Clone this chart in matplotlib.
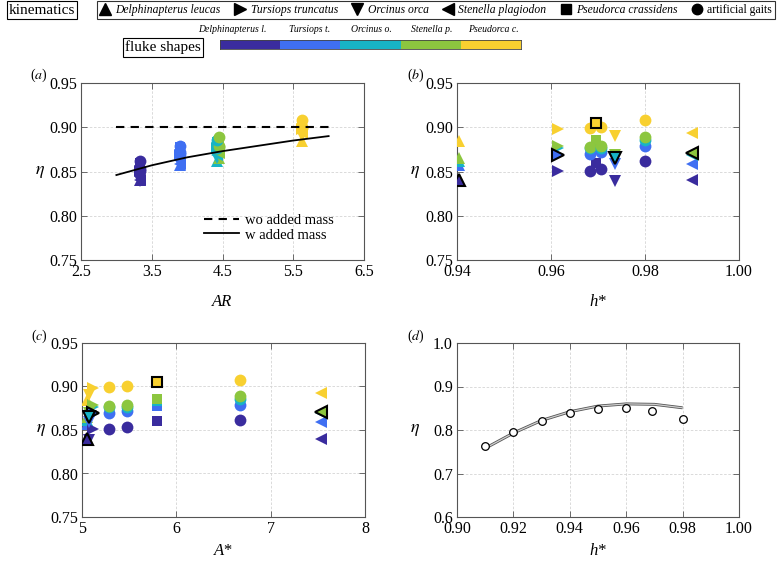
import matplotlib
matplotlib.use("Agg")
import matplotlib.pyplot as plt
from matplotlib.lines import Line2D
from matplotlib.colors import ListedColormap
import numpy as np

plt.rcParams['font.family'] = ['Liberation Serif', 'DejaVu Serif']
plt.rcParams['mathtext.fontset'] = 'stix'

# ---------------- data ----------------
fluke_names = ['Delphinapterus l.', 'Tursiops t.', 'Orcinus o.', 'Stenella p.', 'Pseudorca c.']
fluke_colors = ['#3a2c9e', '#3f6ff2', '#17b4c6', '#8cc63f', '#f8d030']
fluke_AR = [3.33, 3.90, 4.42, 4.45, 5.63]

kin_names = ['Delphinapterus leucas', 'Tursiops truncatus', 'Orcinus orca',
             'Stenella plagiodon', 'Pseudorca crassidens', 'artificial gaits']
kin_markers = ['^', '>', 'v', '<', 's', 'o']

# efficiency for each kinematics, one value per fluke shape (Dl, Tt, Oo, Sp, Pc)
eta_Dl_kin = [0.840, 0.857, 0.862, 0.865, 0.884]
eta_Tt_kin = [0.851, 0.869, 0.876, 0.879, 0.898]
eta_Oo_kin = [0.839, 0.859, 0.865, 0.869, 0.890]
eta_Sp_kin = [0.840, 0.859, 0.869, 0.871, 0.893]
eta_Pc_kin = [0.860, 0.878, 0.883, 0.886, 0.905]
eta_gait1 = [0.851, 0.870, 0.876, 0.878, 0.899]
eta_gait2 = [0.853, 0.872, 0.877, 0.879, 0.900]
eta_gait3 = [0.862, 0.879, 0.886, 0.889, 0.908]

# kinematic parameters
hstar_kin = [0.9405, 0.9615, 0.9737, 0.990, 0.9695, 0.9683, 0.9706, 0.980]
Astar_kin = [5.05, 5.12, 5.07, 7.53, 5.79, 5.29, 5.48, 6.67]
marker_idx = [0, 1, 2, 3, 4, 5, 5, 5]
native_fluke = [0, 1, 2, 3, 4, None, None, None]
eta_all = [eta_Dl_kin, eta_Tt_kin, eta_Oo_kin, eta_Sp_kin, eta_Pc_kin,
           eta_gait1, eta_gait2, eta_gait3]

# panel (a) model lines
AR_fit = [3.0, 3.5, 4.0, 4.5, 5.0, 5.5, 6.0]
eta_fit_wo = [0.900, 0.900, 0.900, 0.900, 0.900, 0.900, 0.900]
eta_fit_w = [0.846, 0.857, 0.866, 0.873, 0.879, 0.885, 0.890]

# panel (d)
hstar_d = [0.91, 0.92, 0.93, 0.94, 0.95, 0.96, 0.969, 0.98]
eta_d = [0.763, 0.795, 0.821, 0.839, 0.849, 0.851, 0.844, 0.825]
hstar_d_fit = [0.91, 0.92, 0.93, 0.94, 0.95, 0.96, 0.97, 0.98]
eta_d_fit = [0.758, 0.793, 0.822, 0.842, 0.855, 0.860, 0.859, 0.851]

# ---------------- figure ----------------
W, H = 779, 561
fig = plt.figure(figsize=(W / 100, H / 100), dpi=100)

def ax_at(x0, y0, x1, y1):
    return fig.add_axes([x0 / W, 1 - y1 / H, (x1 - x0) / W, (y1 - y0) / H])

axA = ax_at(81, 83, 364, 260)
axB = ax_at(457, 83, 739, 260)
axC = ax_at(82, 343, 365, 517)
axD = ax_at(457, 343, 739, 517)

TICK_FS = 11.5
for ax in (axA, axB, axC, axD):
    ax.grid(True, color='#d4d4d4', linestyle=(0, (3, 2)), linewidth=0.6)
    ax.set_axisbelow(True)
    for s in ax.spines.values():
        s.set_color('#555555')
        s.set_linewidth(0.8)
    ax.tick_params(direction='in', top=True, right=True, length=4, width=0.6,
                   color='#555555', labelsize=TICK_FS, pad=3)
    ax.set_ylabel(r'$\eta$', rotation=0, fontsize=13, va='center', ha='center')

MS = {'^': 9, '>': 9, 'v': 9, '<': 9, 's': 6.5, 'o': 8.5}

def scatter_panel(ax, xvals_kin, use_AR=False, edges=True):
    # non-native first, native (edged) last
    for k in range(8):
        m = kin_markers[marker_idx[k]]
        for f in range(5):
            if edges and native_fluke[k] == f:
                continue
            x = fluke_AR[f] if use_AR else xvals_kin[k]
            ax.plot(x, eta_all[k][f], m, ms=MS[m], color=fluke_colors[f],
                    mec=fluke_colors[f], mew=0, zorder=3)
    if edges:
        for k in range(8):
            f = native_fluke[k]
            if f is None:
                continue
            m = kin_markers[marker_idx[k]]
            x = xvals_kin[k]
            ax.plot(x, eta_all[k][f], m, ms=MS[m], color=fluke_colors[f],
                    mec='black', mew=1.5, zorder=4)

# (a)
scatter_panel(axA, None, use_AR=True, edges=False)
axA.plot(AR_fit, eta_fit_wo, '--', color='black', lw=1.5, dashes=(4, 3), label='wo added mass', zorder=5)
axA.plot(AR_fit, eta_fit_w, '-', color='black', lw=1.3, label='w added mass', zorder=5)
axA.set_xlim(2.5, 6.5)
axA.set_ylim(0.75, 0.95)
axA.set_xticks([2.5, 3.5, 4.5, 5.5, 6.5])
axA.set_xticklabels(['2.5', '3.5', '4.5', '5.5', '6.5'])
axA.set_yticks([0.75, 0.80, 0.85, 0.90, 0.95])
axA.set_yticklabels(['0.75', '0.80', '0.85', '0.90', '0.95'])
axA.set_xlabel('AR', fontstyle='italic', fontsize=12)
axA.legend(loc='lower right', bbox_to_anchor=(0.94, 0.03), frameon=False,
           fontsize=10.5, handlelength=2.4, handletextpad=0.4, labelspacing=0.1)

# (b)
scatter_panel(axB, hstar_kin)
axB.set_xlim(0.94, 1.00)
axB.set_ylim(0.75, 0.95)
axB.set_xticks([0.94, 0.96, 0.98, 1.00])
axB.set_xticklabels(['0.94', '0.96', '0.98', '1.00'])
axB.set_yticks([0.75, 0.80, 0.85, 0.90, 0.95])
axB.set_yticklabels(['0.75', '0.80', '0.85', '0.90', '0.95'])
axB.set_xlabel('h*', fontstyle='italic', fontsize=12)

# (c)
scatter_panel(axC, Astar_kin)
axC.set_xlim(5, 8)
axC.set_ylim(0.75, 0.95)
axC.set_xticks([5, 6, 7, 8])
axC.set_yticks([0.75, 0.80, 0.85, 0.90, 0.95])
axC.set_yticklabels(['0.75', '0.80', '0.85', '0.90', '0.95'])
axC.set_xlabel('A*', fontstyle='italic', fontsize=12)

# (d)
axD.plot(hstar_d_fit, eta_d_fit, '-', color='#555555', lw=2.1, zorder=3,
         solid_capstyle='butt')
axD.plot(hstar_d_fit, eta_d_fit, '-', color='#d0d0d0', lw=0.9, zorder=3,
         solid_capstyle='butt')
axD.plot(hstar_d, eta_d, 'o', ms=5.5, mfc='white', mec='black', mew=0.9, zorder=4)
axD.set_xlim(0.90, 1.00)
axD.set_ylim(0.6, 1.0)
axD.set_xticks([0.90, 0.92, 0.94, 0.96, 0.98, 1.00])
axD.set_xticklabels(['0.90', '0.92', '0.94', '0.96', '0.98', '1.00'])
axD.set_yticks([0.6, 0.7, 0.8, 0.9, 1.0])
axD.set_yticklabels(['0.6', '0.7', '0.8', '0.9', '1.0'])
axD.set_xlabel('h*', fontstyle='italic', fontsize=12)

axA.yaxis.set_label_coords(-0.145, 0.5)
axC.yaxis.set_label_coords(-0.145, 0.5)
axB.yaxis.set_label_coords(-0.149, 0.5)
axD.yaxis.set_label_coords(-0.149, 0.5)
axA.xaxis.set_label_coords(0.5, -0.19)
axB.xaxis.set_label_coords(0.5, -0.19)
axC.xaxis.set_label_coords(0.5, -0.15)
axD.xaxis.set_label_coords(0.5, -0.15)

# panel letters
for lbl, (px, py) in zip(['(a)', '(b)', '(c)', '(d)'],
                         [(39, 75), (416, 75), (39, 336), (416, 336)]):
    fig.text(px / W, 1 - py / H, lbl[0] + '$' + lbl[1] + '$' + lbl[2],
             fontsize=10, ha='center', va='center')

# ---------------- top legends ----------------
fig.text(42 / W, 1 - 10 / H, 'kinematics', fontsize=11, ha='center', va='center',
         bbox=dict(boxstyle='square,pad=0.15', fc='white', ec='black', lw=0.8))

handles = [Line2D([], [], marker=m, ls='none', color='black', ms=9 if m not in 'so' else 7.5)
           for m in kin_markers]
leg = fig.legend(handles, kin_names, loc='center', bbox_to_anchor=(436 / W, 1 - 10 / H),
                 ncol=6, frameon=True, fancybox=False, edgecolor='black', fontsize=8.4,
                 handlelength=0.9, handletextpad=0.45, columnspacing=1.2,
                 borderpad=0.25, borderaxespad=0)
leg.get_frame().set_linewidth(0.8)
for i, t in enumerate(leg.get_texts()):
    t.set_fontstyle('italic' if i < 5 else 'normal')

fig.text(163 / W, 1 - 47.5 / H, 'fluke shapes', fontsize=11, ha='center', va='center',
         bbox=dict(boxstyle='square,pad=0.15', fc='white', ec='black', lw=0.8))

cax = ax_at(220, 40, 521, 49)
cax.imshow(np.arange(5)[None, :], cmap=ListedColormap(fluke_colors), aspect='auto',
           extent=(0, 5, 0, 1))
cax.set_xticks([])
cax.set_yticks([])
for s in cax.spines.values():
    s.set_linewidth(0.6)
    s.set_color('#444444')
label_x = [232, 310, 371, 432, 493]
for nm, lx in zip(fluke_names, label_x):
    fig.text(lx / W, 1 - 30 / H, nm, fontsize=7, fontstyle='italic', ha='center', va='center')

fig.savefig('out.png', dpi=100)
